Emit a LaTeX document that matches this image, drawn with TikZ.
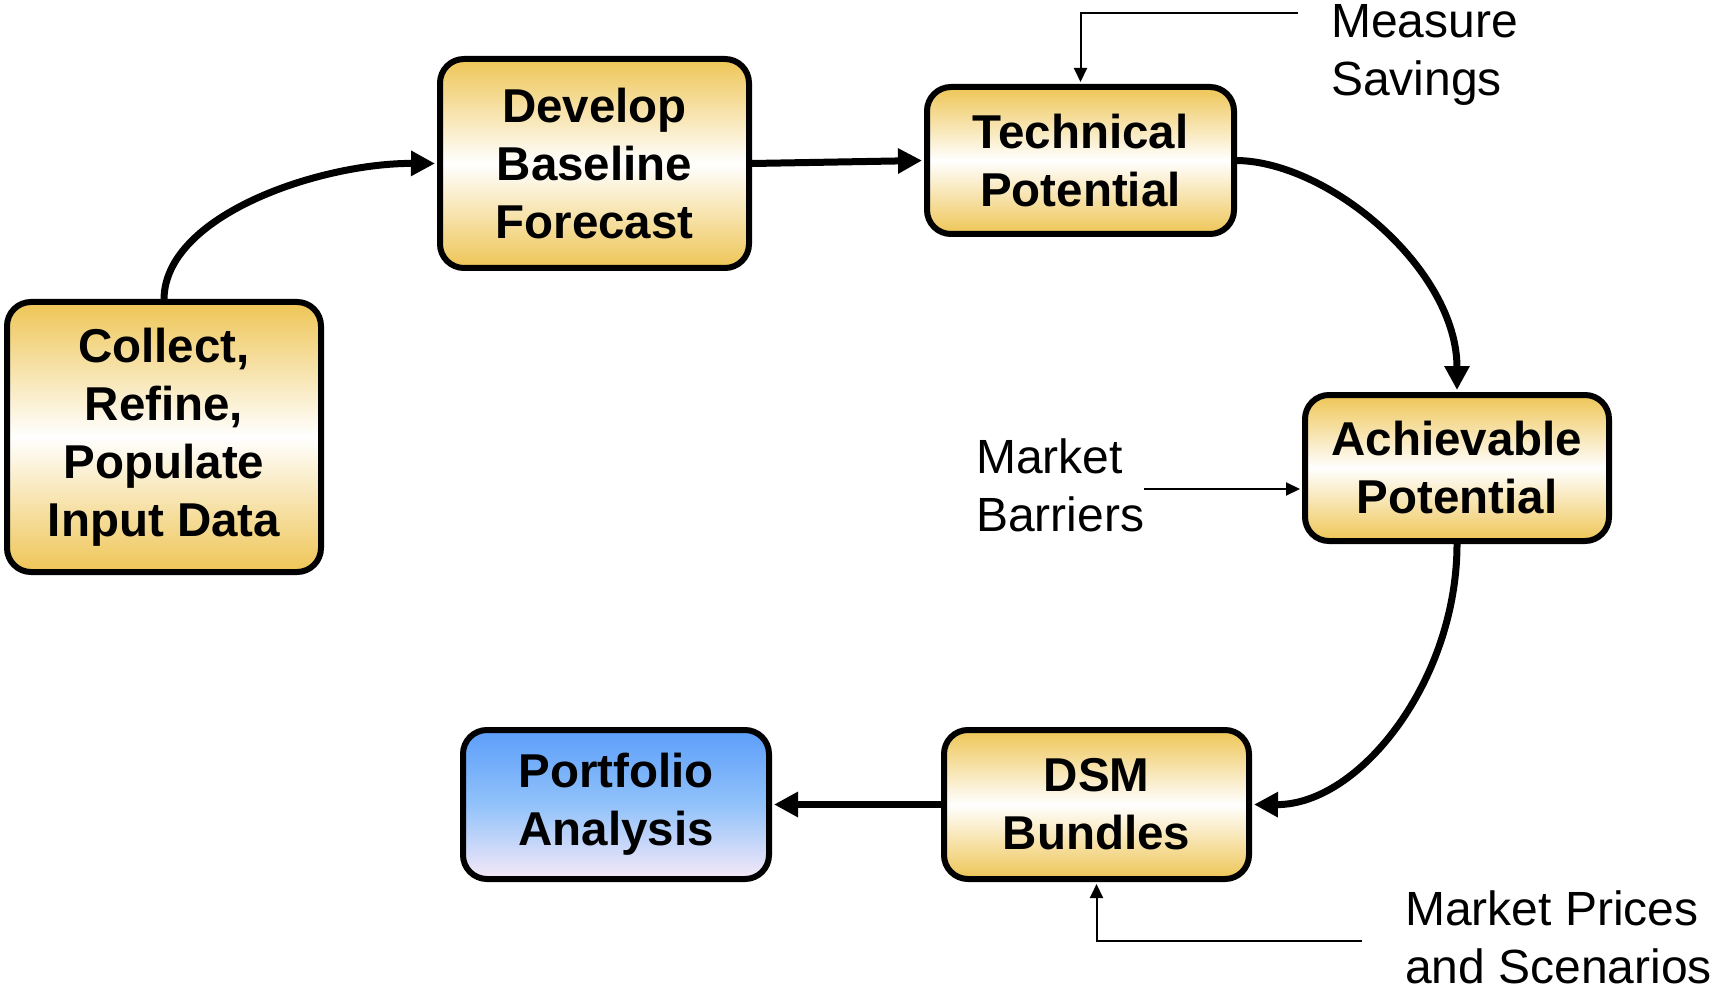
\documentclass[tikz,border=0pt]{standalone}
\usepackage{fontspec}
\setmainfont{Liberation Sans}
\usetikzlibrary{arrows.meta}
\definecolor{gold}{RGB}{238,197,85}
\definecolor{blueTop}{RGB}{92,158,250}
\definecolor{blueMid}{RGB}{145,194,250}
\definecolor{pinkBot}{RGB}{246,233,248}
\tikzset{
  box/.style={draw=black, line width=6pt, rounded corners=24pt, align=center,
    font=\bfseries\fontsize{47.5pt}{58pt}\selectfont, inner sep=0pt},
  goldbox/.style={box, top color=gold, bottom color=gold, middle color=white},
  bluebox/.style={box, top color=blueTop, bottom color=pinkBot, middle color=blueMid},
  flow/.style={line width=7pt, -{Triangle[length=24pt,width=24pt]}, shorten >=2pt},
  feed/.style={line width=2pt, -{Triangle[length=14pt,width=13pt]}, shorten >=2pt},
  lbl/.style={anchor=north west, inner sep=0pt, align=left,
    font=\fontsize{48pt}{58pt}\selectfont}
}
\begin{document}
\begin{tikzpicture}[x=1pt,y=-1pt]
\useasboundingbox (0,0) rectangle (1711,992);
\node[goldbox, minimum width=314pt, minimum height=270pt] (collect) at (164,437) {Collect,\\Refine,\\Populate\\Input Data};
\node[goldbox, minimum width=309pt, minimum height=209pt] (develop) at (594.5,163.5) {Develop\\Baseline\\Forecast};
\node[goldbox, minimum width=307pt, minimum height=147pt] (tech) at (1080.5,160.5) {Technical\\Potential};
\node[goldbox, minimum width=304pt, minimum height=146pt] (ach) at (1457,468) {Achievable\\Potential};
\node[goldbox, minimum width=305pt, minimum height=149pt] (dsm) at (1096.5,804.5) {DSM\\Bundles};
\node[bluebox, minimum width=306pt, minimum height=149pt] (port) at (616,804.5) {Portfolio\\Analysis};

\node[lbl] (ms) at (1331,4) {Measure\\Savings};
\node[lbl] (mb) at (976,439) {Market\\Barriers};
\node[lbl] (mp) at (1405,891) {Market Prices\\and Scenarios};

\draw[flow] (collect.north) .. controls (165,215) and (320,163) .. (develop.west);
\draw[flow] (develop.east) -- (tech.west);
\draw[flow] (tech.east) .. controls (1330,162) and (1457,270) .. (ach.north);
\draw[flow] (ach.south) .. controls (1457,680) and (1360,805) .. (dsm.east);
\draw[flow] (dsm.west) -- (port.east);

\coordinate (msA) at (1298,13);
\coordinate (mbA) at (1144,489);
\coordinate (mpA) at (1362,941);
\draw[feed] (msA) -| (tech.north);
\draw[feed] (mbA) -- (mbA -| ach.west);
\draw[feed] (mpA) -| (dsm.south);
\end{tikzpicture}
\end{document}
